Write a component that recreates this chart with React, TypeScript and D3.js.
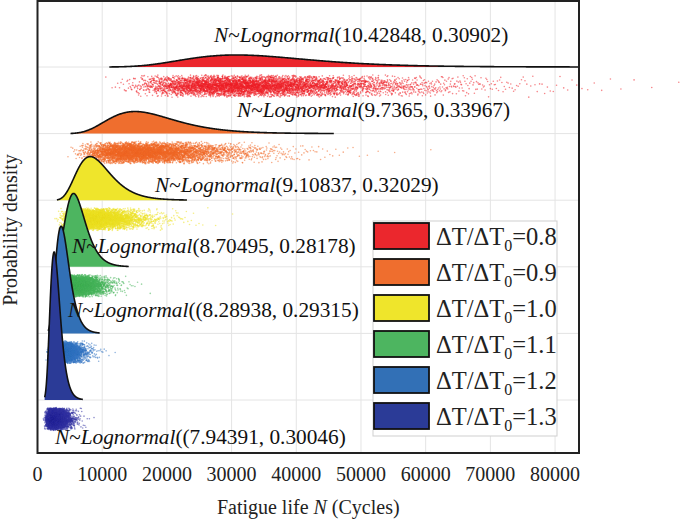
import React from "react";
import * as d3 from "d3";

// ---------- data ----------
const ratioLabels = ["0.8", "0.9", "1.0", "1.1", "1.2", "1.3"];
const mus = [10.42848, 9.7365, 9.10837, 8.70495, 8.28938, 7.94391];
const sigmas = [0.30902, 0.33967, 0.32029, 0.28178, 0.29315, 0.30046];
const paramTexts = [
  "(10.42848, 0.30902)",
  "(9.7365, 0.33967)",
  "(9.10837, 0.32029)",
  "(8.70495, 0.28178)",
  "((8.28938, 0.29315)",
  "((7.94391, 0.30046)",
];
// range of fatigue life covered by each density curve (cycles)
const curveMin = [11100, 5100, 3000, 2300, 1650, 1100];
const curveMax = [90000, 45800, 23100, 14100, 9600, 7000];
const fillColors = ["#EB272D", "#EF6E2E", "#EFE52B", "#4DB560", "#3270B6", "#2B3B97"];
const dotColors = ["#EE2229", "#F06A28", "#ECE225", "#47B55B", "#3474C2", "#3333A3"];
const xTicks = [0, 10000, 20000, 30000, 40000, 50000, 60000, 70000, 80000];

// annotation anchors (x in cycles, dy in px relative to ridge baseline)
const labelX = [27280, 30840, 18160, 5330, 4710, 2700];
const labelDy = [-25, -17, -8, -14, -16, 44];

// ---------- helpers ----------
function probit(p: number): number {
  const a = [-3.969683028665376e1, 2.209460984245205e2, -2.759285104469687e2, 1.38357751867269e2, -3.066479806614716e1, 2.506628277459239];
  const b = [-5.447609879822406e1, 1.615858368580409e2, -1.556989798598866e2, 6.680131188771972e1, -1.328068155288572e1];
  const c = [-7.784894002430293e-3, -3.223964580411365e-1, -2.400758277161838, -2.549732539343734, 4.374664141464968, 2.938163982698783];
  const d = [7.784695709041462e-3, 3.224671290700398e-1, 2.445134137142996, 3.754408661907416];
  const pl = 0.02425;
  if (p < pl) {
    const q = Math.sqrt(-2 * Math.log(p));
    return (((((c[0] * q + c[1]) * q + c[2]) * q + c[3]) * q + c[4]) * q + c[5]) / ((((d[0] * q + d[1]) * q + d[2]) * q + d[3]) * q + 1);
  }
  if (p <= 1 - pl) {
    const q = p - 0.5, r = q * q;
    return ((((((a[0] * r + a[1]) * r + a[2]) * r + a[3]) * r + a[4]) * r + a[5]) * q) / (((((b[0] * r + b[1]) * r + b[2]) * r + b[3]) * r + b[4]) * r + 1);
  }
  const q = Math.sqrt(-2 * Math.log(1 - p));
  return -(((((c[0] * q + c[1]) * q + c[2]) * q + c[3]) * q + c[4]) * q + c[5]) / ((((d[0] * q + d[1]) * q + d[2]) * q + d[3]) * q + 1);
}
function lognormPdf(x: number, mu: number, s: number): number {
  const z = (Math.log(x) - mu) / s;
  return Math.exp(-0.5 * z * z) / (x * s * Math.sqrt(2 * Math.PI));
}
// deterministic integer hash -> [0,1), used only for the vertical jitter of the raincloud points
function hash01(n: number): number {
  let v = n >>> 0;
  v = Math.imul(v ^ (v >>> 16), 0x45d9f3b) >>> 0;
  v = Math.imul(v ^ (v >>> 16), 0x45d9f3b) >>> 0;
  v = (v ^ (v >>> 16)) >>> 0;
  return v / 4294967296;
}

// ---------- layout ----------
const W = 685, H = 522;
const left = 37.5, right = 579, top = 1, bottom = 453;
const N_PTS = 6000;

export default function App() {
  const x = d3.scaleLinear().domain([0, 83700]).range([left, right]);
  const y = d3.scalePoint<number>().domain(d3.range(6)).range([67, 400]);
  const maxPdf = d3.max(mus.map((m, i) => lognormPdf(Math.exp(m - sigmas[i] * sigmas[i]), m, sigmas[i]))) as number;
  const h = d3.scaleLinear().domain([0, maxPdf]).range([0, 148]);

  const groups = mus.map((mu, i) => {
    const s = sigmas[i];
    const base = y(i) as number;
    const xs = d3.range(0, 401).map((k) => curveMin[i] + (k / 400) * (curveMax[i] - curveMin[i]));
    const pts = xs.map((v) => [v, lognormPdf(v, mu, s)] as [number, number]);
    const area = d3.area<[number, number]>().x((d) => x(d[0])).y0(base).y1((d) => base - h(d[1])).curve(d3.curveBasis);
    const line = d3.line<[number, number]>().x((d) => x(d[0])).y((d) => base - h(d[1])).curve(d3.curveBasis);
    // evenly spaced quantiles of each fitted distribution, jittered vertically
    const dots = d3.range(N_PTS).map((k) => {
      const p = (k + 0.5) / N_PTS;
      const u1 = hash01(k * 7 + i * 100003 + 1);
      const u2 = hash01(k * 13 + i * 200003 + 7);
      return { cx: x(Math.exp(mu + s * probit(p))), cy: base + 19 + (u1 + u2 - 1) * 11.5 };
    });
    return { i, base, areaD: area(pts) as string, lineD: line(pts) as string, dots };
  });

  const serif = "'Liberation Serif', 'Times New Roman', serif";

  return (
    <svg width={W} height={H} style={{ position: "absolute", left: 0, top: 0, background: "#fff" }} fontFamily={serif}>
      <defs>
        <clipPath id="plotClip">
          <rect x={left} y={top} width={right - left} height={bottom - top} />
        </clipPath>
      </defs>
      <rect x={0} y={0} width={W} height={H} fill="#fff" />
      {/* grid */}
      <g stroke="#e4e4e4" strokeWidth={1}>
        {xTicks.map((t) => (
          <line key={"vx" + t} x1={x(t)} x2={x(t)} y1={top} y2={bottom} />
        ))}
        {groups.map((g) => (
          <line key={"hy" + g.i} x1={left} x2={right} y1={g.base} y2={g.base} />
        ))}
      </g>
      {/* ridges and points */}
      {groups.map((g) => (
        <g key={"g" + g.i}>
          <g fill={dotColors[g.i]} fillOpacity={0.55}>
            {g.dots.map((d, k) => (
              <circle key={k} cx={d.cx} cy={d.cy} r={0.8} />
            ))}
          </g>
          <g clipPath="url(#plotClip)">
            <path d={g.areaD} fill={fillColors[g.i]} />
            <path d={g.lineD} fill="none" stroke="#111" strokeWidth={1.6} />
          </g>
        </g>
      ))}
      {/* distribution annotations */}
      {groups.map((g) => (
        <text key={"t" + g.i} x={x(labelX[g.i])} y={g.base + labelDy[g.i]} fontSize={21.3} fill="#111">
          <tspan fontStyle="italic">N</tspan>
          <tspan>~</tspan>
          <tspan fontStyle="italic">Lognormal</tspan>
          <tspan>{paramTexts[g.i]}</tspan>
        </text>
      ))}
      {/* legend */}
      <g>
        <rect x={373} y={221} width={184} height={215} fill="#fff" stroke="#cfcfcf" strokeWidth={1} />
        {ratioLabels.map((r, i) => (
          <g key={"lg" + r} transform={`translate(374, ${223 + i * 36})`}>
            <rect x={0} y={0} width={55} height={26} fill={fillColors[i]} stroke="#111" strokeWidth={1.8} />
            <text x={62} y={22} fontSize={24.5} fill="#222">
              ΔT/ΔT<tspan fontSize={16} dy={6}>0</tspan>
              <tspan dy={-6}>={r}</tspan>
            </text>
          </g>
        ))}
      </g>
      {/* frame */}
      <rect x={left} y={top} width={right - left} height={bottom - top} fill="none" stroke="#222" strokeWidth={2} />
      {/* x ticks */}
      {xTicks.map((t) => (
        <text key={"xt" + t} x={x(t)} y={481} fontSize={20} textAnchor="middle" fill="#222">
          {t}
        </text>
      ))}
      <text x={(left + right) / 2} y={514} fontSize={20} textAnchor="middle" fill="#222">
        Fatigue life <tspan fontStyle="italic">N</tspan> (Cycles)
      </text>
      <text transform={`translate(17, ${(top + bottom) / 2 + 3}) rotate(-90)`} fontSize={20} textAnchor="middle" fill="#222">
        Probability density
      </text>
    </svg>
  );
}
